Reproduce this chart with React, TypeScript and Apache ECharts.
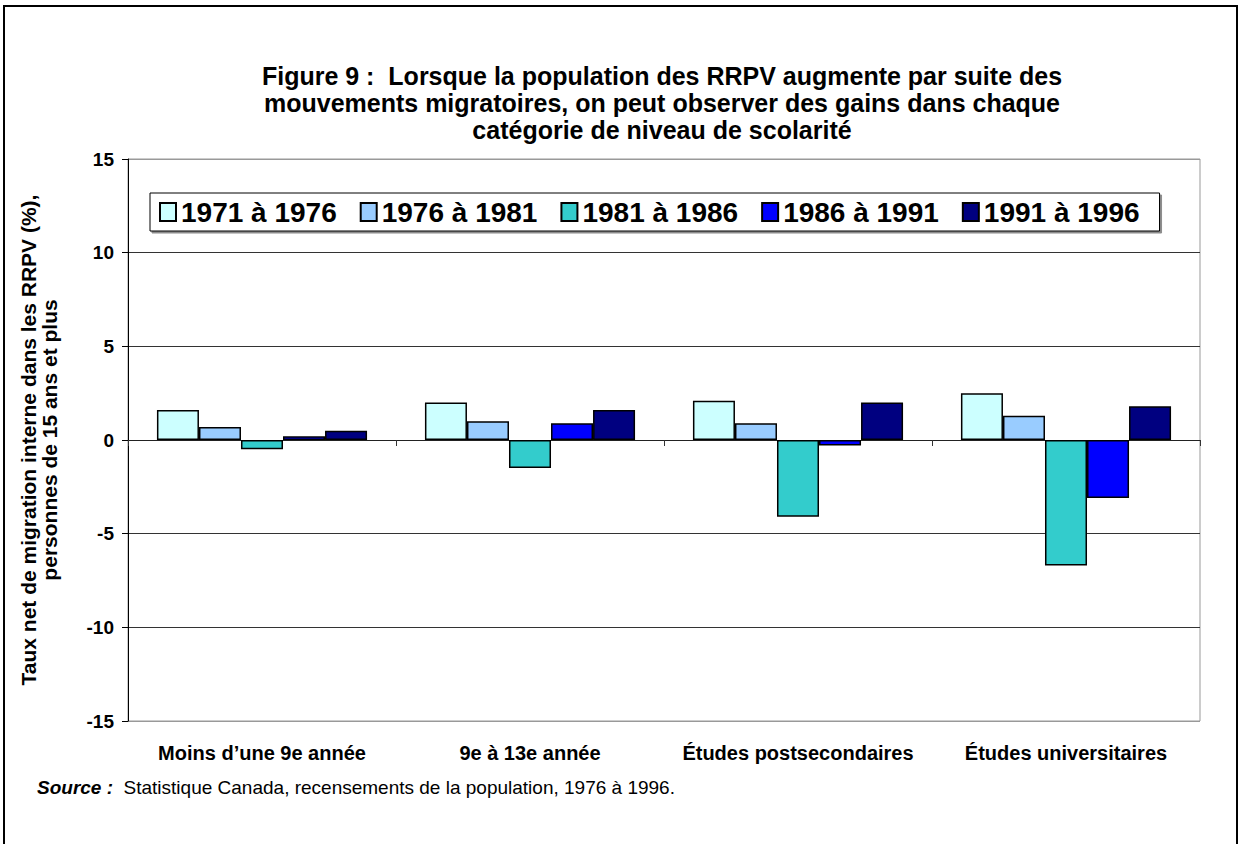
import React, { useEffect, useRef } from "react";
import * as echarts from "echarts";

const categories = [
  "Moins d’une 9e année",
  "9e à 13e année",
  "Études postsecondaires",
  "Études universitaires",
];
const periods = ["1971 à 1976", "1976 à 1981", "1981 à 1986", "1986 à 1991", "1991 à 1996"];
const v1971 = [1.6, 2.0, 2.1, 2.5];
const v1976 = [0.7, 1.0, 0.9, 1.3];
const v1981 = [-0.5, -1.5, -4.1, -6.7];
const v1986 = [0.2, 0.9, -0.3, -3.1];
const v1991 = [0.5, 1.6, 2.0, 1.8];
const seriesValues = [v1971, v1976, v1981, v1986, v1991];
const colors = ["#CCFFFF", "#99CCFF", "#33CCCC", "#0000FF", "#000080"];
const yMin = -15;
const yMax = 15;
const yInterval = 5;

const titleText =
  "Figure 9 :  Lorsque la population des RRPV augmente par suite des\nmouvements migratoires, on peut observer des gains dans chaque\ncatégorie de niveau de scolarité";
const yTitle = "Taux net de migration interne dans les RRPV (%),\npersonnes de 15 ans et plus";
const sourceLabel = "Source :";
const sourceText = "Statistique Canada, recensements de la population, 1976 à 1996.";

const FONT = "'Liberation Sans', Arial, Helvetica, sans-serif";

export default function App() {
  const ref = useRef<HTMLDivElement>(null);
  useEffect(() => {
    if (!ref.current) return;
    const chart = echarts.init(ref.current, null, { renderer: "svg" });
    chart.setOption({
      animation: false,
      backgroundColor: "#ffffff",
      textStyle: { fontFamily: FONT, color: "#000" },
      graphic: [
        {
          type: "rect",
          shape: { x: 4, y: 6, width: 1233, height: 900 },
          style: { fill: "none", stroke: "#000", lineWidth: 2 },
          silent: true,
        },
        {
          type: "text",
          x: 662,
          y: 62,
          style: {
            text: titleText,
            fontFamily: FONT,
            fontSize: 25,
            fontWeight: "bold",
            lineHeight: 27,
            textAlign: "center",
            textVerticalAlign: "top",
            fill: "#000",
          },
        },
        {
          type: "text",
          x: 37,
          y: 778,
          style: {
            text: "{b|" + sourceLabel + "}  " + sourceText,
            fontFamily: FONT,
            fontSize: 19,
            fill: "#000",
            rich: {
              b: { fontFamily: FONT, fontSize: 19, fontWeight: "bold", fontStyle: "italic", fill: "#000" },
            },
          },
        },
      ],
      legend: {
        left: 150,
        top: 193,
        orient: "horizontal",
        data: periods,
        icon: "rect",
        itemWidth: 16,
        itemHeight: 18,
        itemGap: 23,
        padding: [5, 20, 5, 9],
        borderColor: "#000",
        borderWidth: 1,
        backgroundColor: "#fff",
        shadowColor: "rgba(0,0,0,0.45)",
        shadowOffsetX: 2,
        shadowOffsetY: 2,
        shadowBlur: 0,
        textStyle: { fontFamily: FONT, fontSize: 28, fontWeight: "bold", color: "#000" },
      },
      grid: {
        left: 128,
        top: 159,
        width: 1072,
        height: 562,
        show: true,
        borderColor: "#999",
        borderWidth: 1,
        backgroundColor: "transparent",
      },
      xAxis: [
        {
          type: "category",
          data: categories,
          position: "bottom",
          axisLine: { show: false, onZero: false },
          axisTick: { show: false },
          axisLabel: {
            fontFamily: FONT,
            fontSize: 20,
            fontWeight: "bold",
            color: "#000",
            margin: 22,
            interval: 0,
          },
        },
        {
          type: "category",
          data: categories,
          position: "bottom",
          axisLine: { show: true, onZero: true, lineStyle: { color: "#222", width: 1 } },
          axisTick: { show: true, interval: 0, length: 6, lineStyle: { color: "#333" } },
          axisLabel: { show: false },
        },
      ],
      yAxis: {
        type: "value",
        min: yMin,
        max: yMax,
        interval: yInterval,
        axisLine: { show: true, lineStyle: { color: "#000", width: 1 } },
        axisTick: { show: true, length: 6, lineStyle: { color: "#000" } },
        axisLabel: { fontFamily: FONT, fontSize: 19, fontWeight: "bold", color: "#000", margin: 14 },
        splitLine: {
          show: true,
          lineStyle: { color: ["#999", "#333", "#333", "#333", "#333", "#333", "#999"], width: 1 },
        },
        name: yTitle,
        nameLocation: "middle",
        nameRotate: 90,
        nameGap: 68,
        nameTextStyle: { fontFamily: FONT, fontSize: 21, fontWeight: "bold", color: "#000", lineHeight: 21 },
      },
      series: periods.map((p, i) => ({
        name: p,
        type: "bar",
        xAxisIndex: 0,
        data: seriesValues[i],
        barGap: "0%",
        barCategoryGap: "21.6%",
        itemStyle: { color: colors[i], borderColor: "#000", borderWidth: 1.5 },
      })),
    });
    return () => chart.dispose();
  }, []);
  return (
    <div
      ref={ref}
      style={{ position: "fixed", left: 0, top: 0, width: 1238, height: 844, background: "#fff" }}
    />
  );
}
